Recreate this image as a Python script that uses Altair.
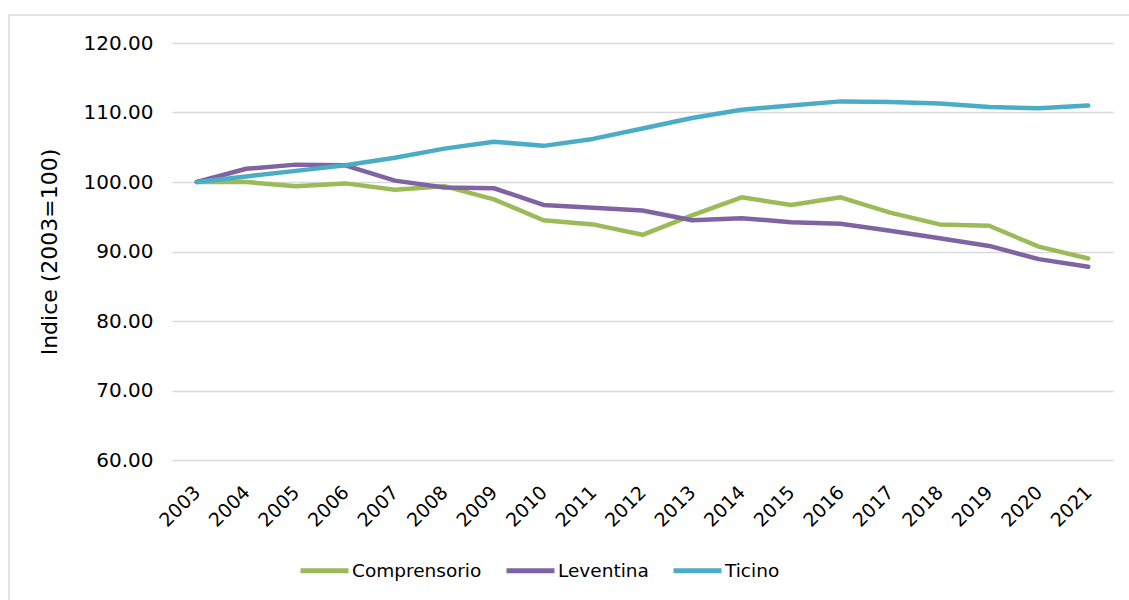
import altair as alt
import pandas as pd

years = [str(y) for y in range(2003, 2022)]
comprensorio = [100.0, 100.0, 99.4, 99.8, 98.9, 99.4, 97.5, 94.5, 93.9, 92.4,
                95.2, 97.8, 96.7, 97.8, 95.6, 93.9, 93.7, 90.7, 89.0]
leventina = [100.0, 101.9, 102.5, 102.4, 100.2, 99.2, 99.1, 96.7, 96.3, 95.9,
             94.5, 94.8, 94.2, 94.0, 93.0, 91.9, 90.8, 88.9, 87.8]
ticino = [100.0, 100.8, 101.6, 102.4, 103.5, 104.8, 105.8, 105.2, 106.2, 107.7,
          109.2, 110.4, 111.0, 111.6, 111.5, 111.3, 110.8, 110.6, 111.0]

series_names = ["Comprensorio", "Leventina", "Ticino"]
series_colors = ["#9BBB59", "#8064A2", "#4BACC6"]
y_ticks = [60, 70, 80, 90, 100, 110, 120]

rows = []
for name, vals in zip(series_names, [comprensorio, leventina, ticino]):
    for yr, v in zip(years, vals):
        rows.append({"Anno": yr, "Serie": name, "Valore": v})
df = pd.DataFrame(rows)

W, H = 941, 417
FONT = "DejaVu Sans"

frame = alt.Chart(alt.Data(values=[{}])).mark_rect(
    fill=None, stroke="#D9D9D9", strokeWidth=1.5
).encode(
    x=alt.value(-163), y=alt.value(-28), x2=alt.value(W + 40), y2=alt.value(H + 200)
)

lines = alt.Chart(df).mark_line(strokeWidth=4.5, strokeCap="round", strokeJoin="round").encode(
    x=alt.X("Anno:O", sort=years,
            scale=alt.Scale(type="point", padding=0.5),
            axis=alt.Axis(title=None, labelAngle=-45, labelAlign="right", labelBaseline="middle",
                          labelPadding=29, ticks=False, domain=False, grid=False,
                          labelFontSize=19, labelFont=FONT, labelColor="#000000")),
    y=alt.Y("Valore:Q", scale=alt.Scale(domain=[60, 120], nice=False, zero=False),
            axis=alt.Axis(title="Indice (2003=100)", values=y_ticks, format=".2f",
                          labelFontSize=20, labelFont=FONT, labelColor="#000000",
                          labelPadding=19, ticks=False, domain=False,
                          grid=True, gridColor="#D9D9D9", gridWidth=1.5,
                          titleFontSize=22, titleFont=FONT, titleFontWeight="normal",
                          titleColor="#000000", titlePadding=22)),
    color=alt.Color("Serie:N", scale=alt.Scale(domain=series_names, range=series_colors),
                    legend=alt.Legend(title=None, orient="none", direction="horizontal",
                                      legendX=126, legendY=501,
                                      symbolType="stroke", symbolSize=2304, symbolStrokeWidth=5,
                                      labelFontSize=18.5, labelFont=FONT, labelColor="#000000",
                                      labelOffset=1, columnPadding=14, padding=0)),
    detail="Serie:N",
)

chart = alt.layer(frame, lines).properties(
    width=W, height=H,
    background="#FFFFFF",
    autosize=alt.AutoSizeParams(type="none"),
    padding={"left": 172, "top": 43, "right": 16, "bottom": 140},
).configure_view(strokeWidth=0, stroke="transparent")

chart.save("out.html", embed_options={"renderer": "svg", "actions": False})
